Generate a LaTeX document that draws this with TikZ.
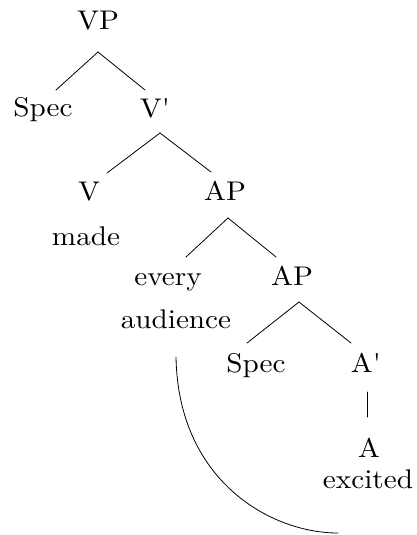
\documentclass[tikz,border=0pt]{standalone}
% labels are set in the 10pt design and enlarged, which keeps its wide letter shapes
\newcommand\treelbl[1]{\scalebox{2.92}[2.7]{#1}}
\begin{document}
\begin{tikzpicture}[x=1pt,y=-1pt,
  lbl/.style={anchor=base,inner sep=0pt,font=\fontsize{10}{12}\selectfont},
  edge/.style={line width=0.8pt,line cap=round}]
\useasboundingbox (0,0) rectangle (416,535);

% labels of the tree
\node[lbl] (vp)    at (98,30)   {\treelbl{VP}};
\node[lbl] (spec1) at (43,116)  {\treelbl{Spec}};
\node[lbl] (vbar)  at (155,117) {\treelbl{V\textquotesingle}};
\node[lbl] (v)     at (89,200)  {\treelbl{V}};
\node[lbl] (made)  at (86,245)  {\treelbl{made}};
\node[lbl] (ap1)   at (225,200) {\treelbl{AP}};
\node[lbl] (every) at (168,285) {\treelbl{every}};
\node[lbl] (aud)   at (176,328) {\treelbl{audience}};
\node[lbl] (ap2)   at (292,285) {\treelbl{AP}};
\node[lbl] (spec2) at (256,372) {\treelbl{Spec}};
\node[lbl] (abar)  at (366,372) {\treelbl{A\textquotesingle}};
\node[lbl] (a)     at (369,457) {\treelbl{A}};
\node[lbl] (exc)   at (368,488) {\treelbl{excited}};

% branches
\draw[edge] ([shift={(0,22)}]vp.base) -- ([shift={(13,-26)}]spec1.base);
\draw[edge] ([shift={(0,22)}]vp.base) -- ([shift={(-10,-27)}]vbar.base);
\draw[edge] ([shift={(5,16)}]vbar.base) -- ([shift={(18,-27)}]v.base);
\draw[edge] ([shift={(5,16)}]vbar.base) -- ([shift={(-14,-28)}]ap1.base);
\draw[edge] ([shift={(3,18)}]ap1.base) -- ([shift={(18,-28)}]every.base);
\draw[edge] ([shift={(3,18)}]ap1.base) -- ([shift={(-16,-28)}]ap2.base);
\draw[edge] ([shift={(7,17)}]ap2.base) -- ([shift={(-9,-29)}]spec2.base);
\draw[edge] ([shift={(7,17)}]ap2.base) -- ([shift={(-15,-29)}]abar.base);
\draw[edge] ([shift={(1,20)}]abar.base) -- ([shift={(-2,-40)}]a.base);

% movement curve
\draw[edge] ([shift={(0,29)}]aud.base) .. controls +(2,123) and +(-68,0) .. ([shift={(-30,45)}]exc.base);
\end{tikzpicture}
\end{document}
